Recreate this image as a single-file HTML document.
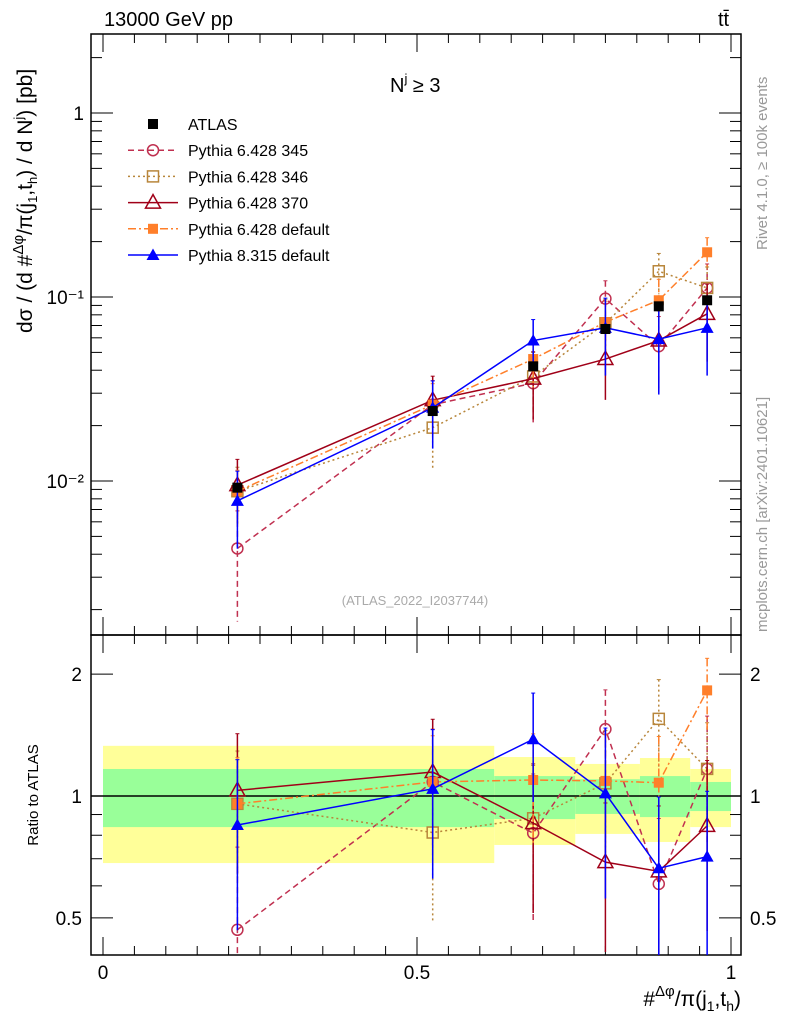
<!DOCTYPE html>
<html><head><meta charset="utf-8"><style>
html,body{margin:0;padding:0;background:#fff;overflow:hidden;width:786px;height:1024px;}
svg{display:block;font-family:"Liberation Sans",sans-serif;}
</style></head><body>
<svg id="c" width="786" height="1024" viewBox="0 0 786 1024" xmlns="http://www.w3.org/2000/svg">
<defs>
<clipPath id="cm"><rect x="91" y="34" width="650" height="601"/></clipPath>
<clipPath id="cr"><rect x="91" y="635" width="650" height="320"/></clipPath>
</defs>
<text x="104" y="26" font-size="20">13000 GeV pp</text>
<text x="718" y="26" font-size="20">tt̄</text>
<text x="390" y="92" font-size="20">N<tspan font-size="13" dy="-9">j</tspan><tspan dy="9"> ≥ 3</tspan></text>
<text x="415" y="605" font-size="13" fill="#aaa" text-anchor="middle">(ATLAS_2022_I2037744)</text>
<text transform="translate(767,250) rotate(-90)" font-size="15" fill="#999">Rivet 4.1.0, ≥ 100k events</text>
<text transform="translate(767,632) rotate(-90)" font-size="15" fill="#999">mcplots.cern.ch [arXiv:2401.10621]</text>
<text transform="translate(32,333) rotate(-90)" font-size="21" text-anchor="start">dσ / (d #<tspan font-size="15" dy="-9">Δφ</tspan><tspan dy="9">/π(j</tspan><tspan font-size="13" dy="5">1</tspan><tspan dy="-5">,t</tspan><tspan font-size="13" dy="5">h</tspan><tspan dy="-5">) / d N</tspan><tspan font-size="13" dy="-9">j</tspan><tspan dy="9">) [pb]</tspan></text>
<text transform="translate(38,795) rotate(-90)" font-size="15" text-anchor="middle">Ratio to ATLAS</text>
<text x="741" y="1006" font-size="21" text-anchor="end">#<tspan font-size="15" dy="-10">Δφ</tspan><tspan dy="10">/π(j</tspan><tspan font-size="14" dy="5">1</tspan><tspan dy="-5">,t</tspan><tspan font-size="14" dy="5">h</tspan><tspan dy="-5">)</tspan></text>
<g id="g"></g>
</svg>
<script>
const xs=[0.214,0.525,0.685,0.8,0.885,0.962];
const atlas=[0.0092,0.024,0.042,0.067,0.089,0.096];
const s345=[0.0043,0.026,0.034,0.098,0.054,0.112];
const s346=[0.0088,0.0195,0.037,0.072,0.138,0.112];
const s370=[0.0095,0.0275,0.036,0.046,0.058,0.081];
const s6def=[0.0088,0.026,0.046,0.073,0.096,0.175];
const s8def=[0.0078,0.025,0.058,0.068,0.059,0.068];
const e345=[0.6,0.35,0.4,0.25,0.45,0.35];
const e346=[0.35,0.4,0.35,0.35,0.25,0.3];
const e370=[0.38,0.35,0.4,0.4,0.45,0.45];
const e6def=[0.3,0.3,0.3,0.3,0.3,0.2];
const e8def=[0.45,0.4,0.3,0.45,0.5,0.45];
const bandEdges=[0,0.623,0.752,0.855,0.935,1.0];
const yelLo=[0.683,0.757,0.806,0.77,0.838];
const yelHi=[1.33,1.248,1.2,1.241,1.166];
const grnLo=[0.838,0.877,0.903,0.887,0.918];
const grnHi=[1.166,1.12,1.10,1.12,1.083];
const yTicks=[1,0.1,0.01];
const yTickLabels=['1','10⁻¹','10⁻²'];
const rTicks=[0.5,1,2];
const rTickLabels=['0.5','1','2'];
const xTicks=[0,0.5,1];
const xTickLabels=['0','0.5','1'];

const NS='http://www.w3.org/2000/svg';
const G=document.getElementById('g');
const L=91,R=741,T=34,MB=635,RB=955;
const X=v=>103+628*v;
const Y=v=>113-184*Math.log10(v);
const YR=v=>796-405*Math.log10(v);
function el(t,a,p){const e=document.createElementNS(NS,t);for(const k in a)e.setAttribute(k,a[k]);(p||G).appendChild(e);return e;}

for(let i=0;i<yelLo.length;i++){
 const b=el('rect',{x:X(bandEdges[i]),y:YR(yelHi[i]),width:X(bandEdges[i+1])-X(bandEdges[i]),height:YR(yelLo[i])-YR(yelHi[i]),fill:'#ffff99'});
 
 
 const g2=el('rect',{x:X(bandEdges[i]),y:YR(grnHi[i]),width:X(bandEdges[i+1])-X(bandEdges[i]),height:YR(grnLo[i])-YR(grnHi[i]),fill:'#99ff99'});
 
 
}
el('line',{x1:L,x2:R,y1:YR(1),y2:YR(1),stroke:'#000','stroke-width':1.5});

const f1=el('rect',{x:L,y:T,width:R-L,height:MB-T,fill:'none',stroke:'#000','stroke-width':1.5});


const f2=el('rect',{x:L,y:MB,width:R-L,height:RB-MB,fill:'none',stroke:'#000','stroke-width':1.5});



for(let k=0;k<=20;k++){const v=k*0.05,x=X(v),len=(k%10==0)?18:9;
 el('line',{x1:x,x2:x,y1:RB,y2:RB-len,stroke:'#000'});
 el('line',{x1:x,x2:x,y1:MB,y2:MB-len,stroke:'#000'});
 el('line',{x1:x,x2:x,y1:MB,y2:MB+len,stroke:'#000'});
 el('line',{x1:x,x2:x,y1:T,y2:T+len,stroke:'#000'});}
xTicks.forEach((v,i)=>{const t=el('text',{x:X(v),y:979,'font-size':19,'text-anchor':'middle'});t.textContent=xTickLabels[i];
 
 });
for(let d=-3;d<=0;d++)for(let m=1;m<=9;m++){const v=m*Math.pow(10,d),y=Y(v);if(y<T||y>MB)continue;const len=m==1?22:11;
 el('line',{x1:L,x2:L+len,y1:y,y2:y,stroke:'#000'});el('line',{x1:R,x2:R-len,y1:y,y2:y,stroke:'#000'});}
yTicks.forEach((v,i)=>{const t=el('text',{x:84,y:Y(v)+7,'font-size':19,'text-anchor':'end'});t.textContent=yTickLabels[i];
 
 });
[0.4,0.5,0.6,0.7,0.8,0.9,1,2].forEach(v=>{const y=YR(v);if(y>RB||y<MB)return;const len=(v==0.5||v==1||v==2)?22:11;
 el('line',{x1:L,x2:L+len,y1:y,y2:y,stroke:'#000'});el('line',{x1:R,x2:R-len,y1:y,y2:y,stroke:'#000'});});
rTicks.forEach((v,i)=>{[[82,'end'],[750,'start']].forEach(p=>{const t=el('text',{x:p[0],y:YR(v)+7,'font-size':19,'text-anchor':p[1]});t.textContent=rTickLabels[i];
 
 });});

function marker(kind,x,y,c,g){
 if(kind=='sq')el('rect',{x:x-5,y:y-5,width:10,height:10,fill:c},g);
 if(kind=='osq')el('rect',{x:x-5.5,y:y-5.5,width:11,height:11,fill:'none',stroke:c,'stroke-width':1.5},g);
 if(kind=='oc')el('circle',{cx:x,cy:y,r:5.5,fill:'none',stroke:c,'stroke-width':1.5},g);
 if(kind=='otri')el('polygon',{points:`${x},${y-8} ${x-7.5},${y+5.5} ${x+7.5},${y+5.5}`,fill:'none',stroke:c,'stroke-width':1.5},g);
 if(kind=='tri')el('polygon',{points:`${x},${y-6.5} ${x-6.5},${y+5} ${x+6.5},${y+5}`,fill:c},g);
}
const series=[
 {n:'Pythia 6.428 345',v:s345,e:e345,c:'#c03050',d:'6,4',m:'oc',id:'pythia-6428-345'},
 {n:'Pythia 6.428 346',v:s346,e:e346,c:'#b8863b',d:'2,3',m:'osq',id:'pythia-6428-346'},
 {n:'Pythia 6.428 370',v:s370,e:e370,c:'#a00018',d:'',m:'otri',id:'pythia-6428-370'},
 {n:'Pythia 6.428 default',v:s6def,e:e6def,c:'#ff7f2a',d:'8,3,2,3',m:'sq',id:'pythia-6428-default'},
 {n:'Pythia 8.315 default',v:s8def,e:e8def,c:'#0000ff',d:'',m:'tri',id:'pythia-8315-default'}];
series.forEach(s=>{
 const g=el('g',{'clip-path':'url(#cm)'});
 
 
 const gr=el('g',{'clip-path':'url(#cr)'});
 
 
 const pm=[],pr=[];
 s.v.forEach((v,i)=>{const r=v/atlas[i];pm.push(X(xs[i])+','+Y(v));pr.push(X(xs[i])+','+YR(r));
  [[Y,v,g,T,MB],[YR,r,gr,MB,RB]].forEach(([f,val,gg,top,bot])=>{const x=X(xs[i]);
   const y1=Math.max(f(val*(1+s.e[i])),top),y2=Math.min(f(Math.max(val*(1-s.e[i]),1e-4)),bot);
   el('line',{x1:x,x2:x,y1:y1,y2:y2,stroke:s.c,'stroke-width':1.5,'stroke-dasharray':s.d},gg);
   el('line',{x1:x-2,x2:x+2,y1:y1,y2:y1,stroke:s.c},gg);});});
 el('polyline',{points:pm.join(' '),fill:'none',stroke:s.c,'stroke-width':1.5,'stroke-dasharray':s.d},g);
 el('polyline',{points:pr.join(' '),fill:'none',stroke:s.c,'stroke-width':1.5,'stroke-dasharray':s.d},gr);
 s.v.forEach((v,i)=>{marker(s.m,X(xs[i]),Y(v),s.c,g);marker(s.m,X(xs[i]),YR(v/atlas[i]),s.c,gr);});
});
const ga=el('g',{});


atlas.forEach((v,i)=>marker('sq',X(xs[i]),Y(v),'#000',ga));

const lg=el('g',{});


const ent=[{n:'ATLAS',c:'#000',m:'sq',d:null}].concat(series);
ent.forEach((s,i)=>{const y=124+26.2*i;
 const e=el('g',{},lg);
 
 
 if(s.d!==null)el('line',{x1:128,x2:178,y1:y,y2:y,stroke:s.c,'stroke-width':1.5,'stroke-dasharray':s.d},e);
 marker(s.m,153,y,s.c,e);
 const t=el('text',{x:188,y:y+6,'font-size':16},e);t.textContent=s.n;});
</script>
</body></html>
